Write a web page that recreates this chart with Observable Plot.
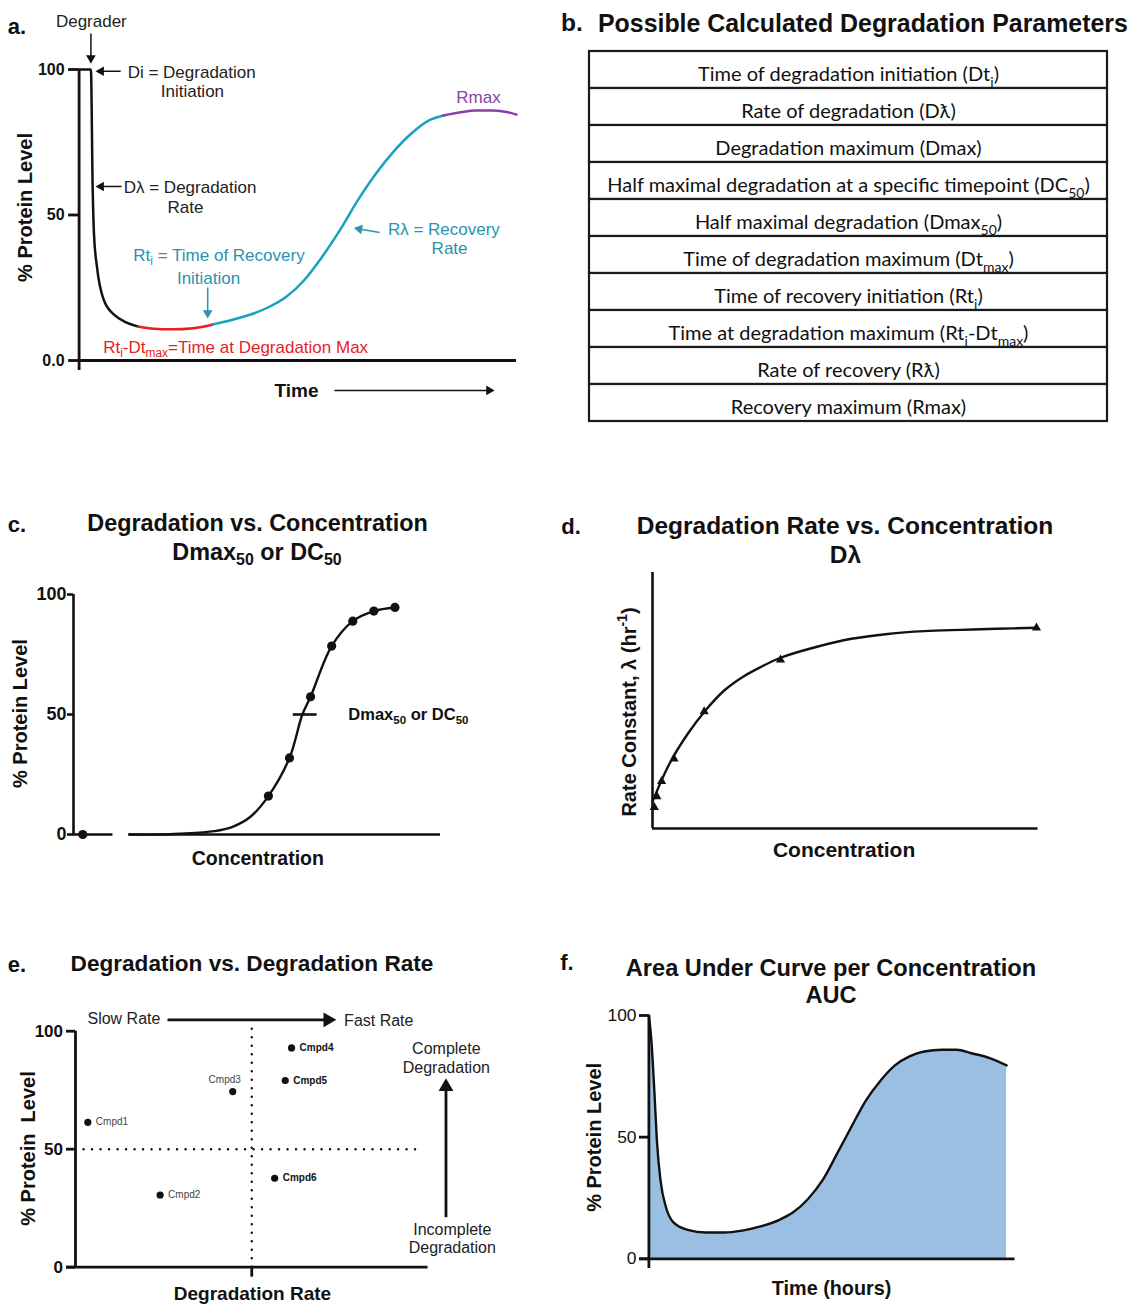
<!DOCTYPE html>
<html>
<head>
<meta charset="utf-8">
<script src="https://cdn.jsdelivr.net/npm/d3@7"></script>
<script src="https://cdn.jsdelivr.net/npm/@observablehq/plot@0.6"></script>
<style>
  html, body { margin: 0; padding: 0; background: #fff; }
  #page { position: relative; width: 1130px; height: 1304px; overflow: hidden;
          font-family: "Liberation Sans", Arial, sans-serif; color: #111; }
  .lbl { position: absolute; white-space: nowrap; line-height: 1; }
  .lbl sub { font-size: 68%; vertical-align: -0.28em; line-height: 0; }
  .panel { position: absolute; }
  .panel svg { overflow: visible; }
</style>
</head>
<body>
<div id="page"></div>
<script>
// ---------------- DATA ----------------
// Panel a: idealised time course (time in arbitrary units 0-100, % protein level)
const aTime  = [0, 2.7, 3.1, 3.4, 4.1, 5.7, 8.2, 10.6, 13.5, 17.1, 21.2, 26.1, 30.6, 35.1, 39.2, 43.3, 47.3, 51.4, 55.5, 59.6, 63.7, 67.8, 71.8, 75.9, 80, 83.3, 87.3, 90.6, 94.7, 98, 100];
const aLevel = [100, 100, 59.6, 43.5, 32, 20.6, 15.5, 13.2, 11.7, 10.9, 10.7, 11.1, 12.4, 14, 15.8, 18.3, 21.8, 27.5, 35.5, 44.7, 55, 64.1, 71.6, 77.9, 82.5, 84.2, 85.3, 85.9, 85.9, 85.3, 84.5];
const aPhaseNames = ["degradation", "dmax", "recovery", "rmax"];
const aPhaseStart = [0, 13.5, 30.6, 83.3];
const aPhaseEnd   = [13.5, 30.6, 83.3, 100];

// Panel b: parameter table rows
const bParams = [
  "Time of degradation initiation (Dt_{i})",
  "Rate of degradation (D\u019B)",
  "Degradation maximum (Dmax)",
  "Half maximal degradation at a specific timepoint (DC_{50})",
  "Half maximal degradation (Dmax_{50})",
  "Time of degradation maximum (Dt_{max})",
  "Time of recovery initiation (Rt_{i})",
  "Time at degradation maximum (Rt_{i}-Dt_{max})",
  "Rate of recovery (R\u019B)",
  "Recovery maximum (Rmax)"
];

// Panel c: dose response (log concentration units)
const cLogConc = [-9, -8, -7, -6, -5, -4, -3];
const cLevel   = [16, 31.9, 57.4, 78.5, 88.9, 93.1, 94.6];
const cVehicleLogConc = [-17.8];
const cVehicleLevel   = [0];
const cFitLogConc = [-15.6, -14.1, -13.24, -11.56, -10.7, -9.85, -9, -8, -7.39, -7, -6, -5, -4, -3];
const cFitLevel   = [0, 0, 0.3, 1.4, 3.2, 7.4, 16, 31.9, 50, 57.4, 78.5, 88.9, 93.1, 94.6];
const cDC50 = 50;

// Panel d: rate constant vs concentration (arbitrary units)
const dConc = [0.47, 1.14, 2.36, 5.58, 13.4, 33.2, 99.6];
const dRate = [8.3, 12.5, 18.4, 27.2, 45.7, 65.9, 78.4];
const dFitConc = [0, 4.4, 9.15, 13.9, 18.6, 23.3, 28, 33.2, 42.2, 51.6, 61, 70.5, 79.9, 89.3, 99.7];
const dFitRate = [10.5, 25.3, 37, 46.4, 53.9, 59.1, 63, 66.7, 70.8, 74.1, 76, 77.1, 77.6, 78, 78.4];

// Panel e: compounds, degradation rate (0-100) vs % protein level
const eCompounds = ["Cmpd1", "Cmpd2", "Cmpd3", "Cmpd4", "Cmpd5", "Cmpd6"];
const eRate  = [3.5, 24, 44.6, 61.3, 59.5, 56.5];
const eLevel = [61.4, 30.6, 74.4, 92.9, 79.1, 37.7];

// Panel f: time course for AUC (time 0-100)
const fTime  = [0, 0.68, 1.48, 2.18, 3.17, 4.66, 6.64, 10.6, 15.6, 20.5, 25.5, 30.5, 35.5, 39.4, 43.4, 47.4, 51.4, 55.3, 59.3, 63.3, 67.2, 71.2, 75.2, 80.1, 84.1, 88.1, 93.1, 97.7];
const fLevel = [100, 89.7, 69.2, 48.6, 32.2, 21.2, 15.1, 11.9, 10.8, 10.8, 11.6, 13.3, 15.9, 19.1, 24.5, 32.2, 43.2, 54.2, 65.1, 73.3, 79.5, 83.2, 85.2, 85.9, 85.9, 84.5, 82.5, 79.5];

// ---------------- HELPERS ----------------
const page = document.getElementById("page");
const NS = "http://www.w3.org/2000/svg";
const INK = "#111";
const RED = "#ec1c24", CYAN = "#17a2bd", CYAN_TXT = "#2a93ad", PURPLE = "#8b3fa8";
const baseStyle = {fontFamily: "'Liberation Sans', Arial, sans-serif", fontSize: "16px", color: INK, background: "transparent", overflow: "visible"};

function label(html, x, y, size, opts = {}) {
  const {weight = "bold", anchor = "middle"} = opts;
  const d = document.createElement("div");
  d.className = "lbl";
  d.innerHTML = html;
  d.style.left = x + "px";
  d.style.top = y + "px";
  d.style.fontSize = size + "px";
  d.style.fontWeight = weight;
  const tx = anchor === "middle" ? "-50%" : anchor === "end" ? "-100%" : "0";
  d.style.transform = `translate(${tx}, -50%)`;
  page.appendChild(d);
}

function panel(svg, left, top) {
  const d = document.createElement("div");
  d.className = "panel";
  d.style.left = left + "px";
  d.style.top = top + "px";
  d.appendChild(rich(svg));
  page.appendChild(d);
}

// Turn _{..} and ^{..} into subscript / superscript tspans
function rich(svg) {
  for (const t of svg.querySelectorAll("text")) {
    if (t.querySelector("tspan")) continue;
    const s = t.textContent;
    if (!/[_^]\{/.test(s)) continue;
    t.textContent = "";
    let cur = 0;
    const add = (str, kind) => {
      const ts = document.createElementNS(NS, "tspan");
      ts.textContent = str;
      if (kind) {
        const target = kind === "_" ? 0.26 : -0.42;
        ts.setAttribute("font-size", "70%");
        ts.setAttribute("dy", ((target - cur) / 0.7).toFixed(3) + "em");
        cur = target;
      } else if (cur !== 0) {
        ts.setAttribute("dy", (-cur).toFixed(3) + "em");
        cur = 0;
      }
      t.appendChild(ts);
    };
    const re = /([_^])\{([^}]*)\}/g;
    let last = 0, m;
    while ((m = re.exec(s))) {
      if (m.index > last) add(s.slice(last, m.index));
      add(m[2], m[1]);
      last = re.lastIndex;
    }
    if (last < s.length) add(s.slice(last));
  }
  return svg;
}

// arrow = line + filled triangular head whose tip lands on (x2, y2)
function arrowMarks(rows, k, opts = {}) {
  const {r = 3.5, strokeWidth = 1.5, color = INK} = opts;
  const tip = 2 * Math.sqrt((Math.PI * r * r) / (3 * Math.sqrt(3)));
  const data = rows.map(d => {
    const px = (d.x2 - d.x1) * k.kx, py = -(d.y2 - d.y1) * k.ky;
    const L = Math.hypot(px, py), ux = px / L, uy = py / L;
    return {...d, hx: d.x2 - ux * tip / k.kx, hy: d.y2 + uy * tip / k.ky,
            angle: Math.atan2(ux, -uy) * 180 / Math.PI, c: d.color || color};
  });
  return [
    Plot.link(data, {x1: "x1", y1: "y1", x2: "hx", y2: "hy", stroke: "c", strokeWidth}),
    Plot.dot(data, {x: "hx", y: "hy", symbol: "triangle", r, fill: "c", stroke: "none", rotate: "angle"})
  ];
}

// ---------------- TITLES ----------------
label("a.", 17, 27, 22);
label("b.", 572, 23, 24.5);
label("Possible Calculated Degradation Parameters", 598, 23, 24.9, {anchor: "start"});
label("c.", 17, 525, 22);
label("Degradation vs. Concentration", 257.5, 524, 23.4);
label("Dmax<sub>50</sub> or DC<sub>50</sub>", 257, 553, 23.4);
label("d.", 571, 527, 22);
label("Degradation Rate vs. Concentration", 845, 526, 24.5);
label("D\u03BB", 845.5, 555, 24.5);
label("e.", 17, 965, 22);
label("Degradation vs. Degradation Rate", 252, 964, 22.6);
label("f.", 567, 963, 22);
label("Area Under Curve per Concentration", 831, 969, 23.6);
label("AUC", 831, 996, 23.6);

// ---------------- PANEL A ----------------
{
  const rows = aTime.map((t, i) => ({t, v: aLevel[i]}));
  const phaseColor = {degradation: INK, dmax: RED, recovery: CYAN, rmax: PURPLE};
  const k = {kx: (516 - 78.6) / 100, ky: (360 - 69) / 100};
  const notes = [
    {x: 2.8, y: 116.5, text: "Degrader", c: "#222", a: "middle"},
    {x: 11.1, y: 99, text: "Di = Degradation", c: "#222", a: "start"},
    {x: 25.9, y: 92.4, text: "Initiation", c: "#222", a: "middle"},
    {x: 10.2, y: 59.5, text: "D\u03BB = Degradation", c: "#222", a: "start"},
    {x: 24.3, y: 52.6, text: "Rate", c: "#222", a: "middle"},
    {x: 12.4, y: 36.1, text: "Rt_{i} = Time of Recovery", c: CYAN_TXT, a: "start"},
    {x: 29.6, y: 28.2, text: "Initiation", c: CYAN_TXT, a: "middle"},
    {x: 70.6, y: 45.0, text: "R\u03BB = Recovery", c: CYAN_TXT, a: "start"},
    {x: 84.7, y: 38.5, text: "Rate", c: CYAN_TXT, a: "middle"},
    {x: 91.3, y: 90.4, text: "Rmax", c: PURPLE, a: "middle"},
    {x: 5.5, y: 4.5, text: "Rt_{i}-Dt_{max}=Time at Degradation Max", c: RED, a: "start"}
  ];
  const arrows = [
    {x1: 2.7, y1: 112.4, x2: 2.7, y2: 102},
    {x1: 9.5, y1: 99.4, x2: 3.75, y2: 99.4},
    {x1: 9.7, y1: 59.8, x2: 3.75, y2: 59.8},
    {x1: 29.4, y1: 25.1, x2: 29.4, y2: 14.4, color: CYAN_TXT},
    {x1: 68.7, y1: 44.0, x2: 62.8, y2: 45.5, color: CYAN_TXT},
    {x1: 58.4, y1: -10.3, x2: 95, y2: -10.3}
  ];
  const svg = Plot.plot({
    width: 560, height: 420, marginLeft: 78.6, marginRight: 44, marginTop: 69, marginBottom: 60,
    x: {domain: [0, 100], axis: null}, y: {domain: [0, 100], axis: null},
    color: {type: "identity"},
    style: baseStyle,
    marks: [
      Plot.ruleX([0], {y1: -3.4, y2: 100, strokeWidth: 2.8, stroke: INK}),
      Plot.ruleY([0], {x1: 0, x2: 100, strokeWidth: 2.8, stroke: INK}),
      Plot.axisY({ticks: [0, 50, 100], tickFormat: d => d === 0 ? "0.0" : d, tickSize: 10.5, tickPadding: 4,
                  fontSize: 16, fontWeight: "bold", strokeWidth: 2.8, label: null}),
      ...aPhaseNames.map((p, i) => Plot.line(rows.filter(d => d.t >= aPhaseStart[i] && d.t <= aPhaseEnd[i]),
        {x: "t", y: "v", stroke: phaseColor[p], strokeWidth: 2.5, curve: "monotone-x"})),
      ...arrowMarks(arrows, k, {r: 3.6, strokeWidth: 1.5}),
      Plot.text(notes.filter(d => d.a === "start"), {x: "x", y: "y", text: "text", fill: "c", textAnchor: "start", fontSize: 17}),
      Plot.text(notes.filter(d => d.a === "middle"), {x: "x", y: "y", text: "text", fill: "c", textAnchor: "middle", fontSize: 17}),
      Plot.text(["% Protein Level"], {x: -12.25, y: 52.6, rotate: -90, fontSize: 20, fontWeight: "bold"}),
      Plot.text(["Time"], {x: 49.7, y: -10.3, fontSize: 19, fontWeight: "bold"})
    ]
  });
  panel(svg, 0, 0);
}

// ---------------- PANEL B ----------------
{
  const svg = Plot.plot({
    width: 570, height: 400, marginLeft: 29, marginRight: 23, marginTop: 10, marginBottom: 19,
    x: {domain: [0, 1], axis: null},
    y: {domain: bParams, padding: 0, axis: null},
    style: baseStyle,
    marks: [
      Plot.barX(bParams, {y: d => d, x1: 0, x2: 1, fill: "#fff", stroke: "#1a1a1a", strokeWidth: 2.2}),
      Plot.text(bParams, {y: d => d, x: 0.5, dy: 5, text: d => d, fontSize: 20, fontFamily: "Lato, 'Noto Sans', sans-serif", fill: "#111"})
    ]
  });
  panel(svg, 560, 40);
}

// ---------------- PANEL C ----------------
{
  const pts = cLogConc.map((x, i) => ({x, y: cLevel[i]}));
  const veh = cVehicleLogConc.map((x, i) => ({x, y: cVehicleLevel[i]}));
  const fit = cFitLogConc.map((x, i) => ({x, y: cFitLevel[i]}));
  const x0 = -18.24, x1 = -0.84;
  const svg = Plot.plot({
    width: 560, height: 340, marginLeft: 73, marginRight: 120, marginTop: 54, marginBottom: 46,
    x: {domain: [x0, x1], axis: null}, y: {domain: [0, 100], axis: null},
    style: baseStyle,
    marks: [
      Plot.ruleX([x0], {y1: 0, y2: 100, strokeWidth: 2.6, stroke: INK}),
      Plot.ruleY([{a: x0, b: -16.37}, {a: -15.6, b: x1}], {y: 0, x1: "a", x2: "b", strokeWidth: 2.6, stroke: INK}),
      Plot.axisY({ticks: [0, 50, 100], tickSize: 6, tickPadding: 1, fontSize: 18, fontWeight: "bold", strokeWidth: 2.6, label: null}),
      Plot.line(fit, {x: "x", y: "y", stroke: INK, strokeWidth: 2.4, curve: "catmull-rom"}),
      Plot.dot(pts, {x: "x", y: "y", r: 4.6, fill: INK}),
      Plot.dot(veh, {x: "x", y: "y", r: 4.6, fill: INK}),
      Plot.ruleY([cDC50], {x1: -7.82, x2: -6.69, strokeWidth: 2.6, stroke: INK}),
      Plot.text(["Dmax_{50} or DC_{50}"], {x: -5.21, y: 50, textAnchor: "start", fontSize: 16.5, fontWeight: "bold"}),
      Plot.text(["% Protein Level"], {x: -20.75, y: 50.4, rotate: -90, fontSize: 20, fontWeight: "bold"}),
      Plot.text(["Concentration"], {x: -9.5, y: -10, fontSize: 19.5, fontWeight: "bold"})
    ]
  });
  panel(svg, 0, 540);
}

// ---------------- PANEL D ----------------
{
  const pts = dConc.map((x, i) => ({x, y: dRate[i]}));
  const fit = dFitConc.map((x, i) => ({x, y: dFitRate[i]}));
  const svg = Plot.plot({
    width: 570, height: 320, marginLeft: 92, marginRight: 92.5, marginTop: 12, marginBottom: 52,
    x: {domain: [0, 100], axis: null}, y: {domain: [0, 100], axis: null},
    style: baseStyle,
    marks: [
      Plot.ruleX([0], {y1: 0, y2: 100, strokeWidth: 2.6, stroke: INK}),
      Plot.ruleY([0], {x1: 0, x2: 100, strokeWidth: 2.6, stroke: INK}),
      Plot.line(fit, {x: "x", y: "y", stroke: INK, strokeWidth: 2.4, curve: "catmull-rom"}),
      Plot.dot(pts, {x: "x", y: "y", symbol: "triangle2", r: 4.4, fill: INK}),
      Plot.text(["Rate Constant, \u03BB (hr^{-1})"], {x: -6, y: 45.5, rotate: -90, fontSize: 20, fontWeight: "bold"}),
      Plot.text(["Concentration"], {x: 49.7, y: -8.6, fontSize: 21, fontWeight: "bold"})
    ]
  });
  panel(svg, 560, 560);
}

// ---------------- PANEL E ----------------
{
  const pts = eCompounds.map((name, i) => ({name, x: eRate[i], y: eLevel[i]}));
  const k = {kx: 3.525, ky: 2.36};
  const rightPlain = ["Cmpd1", "Cmpd2"], above = ["Cmpd3"], rightBold = ["Cmpd4", "Cmpd5", "Cmpd6"];
  const arrows = [
    {x1: 26.1, y1: 104.8, x2: 74, y2: 104.8},
    {x1: 105.1, y1: 21.2, x2: 105.1, y2: 80.1}
  ];
  const notes = [
    {x: 3.4, y: 105.4, text: "Slow Rate", a: "start"},
    {x: 76.2, y: 104.5, text: "Fast Rate", a: "start"},
    {x: 105.2, y: 92.7, text: "Complete", a: "middle"},
    {x: 105.2, y: 84.6, text: "Degradation", a: "middle"},
    {x: 106.9, y: 16, text: "Incomplete", a: "middle"},
    {x: 106.9, y: 8.4, text: "Degradation", a: "middle"}
  ];
  const dotted = {strokeDasharray: "0.1 8.4", strokeLinecap: "round", strokeWidth: 2.4, stroke: INK};
  const svg = Plot.plot({
    width: 560, height: 314, marginLeft: 75, marginRight: 132.5, marginTop: 40.7, marginBottom: 37.3,
    x: {domain: [0, 100], axis: null}, y: {domain: [0, 100], axis: null},
    style: baseStyle,
    marks: [
      Plot.ruleX([50], {y1: 0, y2: 103.3, ...dotted}),
      Plot.ruleY([50], {x1: 0, x2: 98.2, ...dotted}),
      Plot.ruleX([0], {y1: 0, y2: 100, strokeWidth: 2.8, stroke: INK}),
      Plot.ruleY([0], {x1: -2.55, x2: 100, strokeWidth: 2.8, stroke: INK}),
      Plot.ruleX([50], {y1: 0, y2: -4.2, strokeWidth: 2.8, stroke: INK}),
      Plot.axisY({ticks: [0, 50, 100], tickSize: 9, tickPadding: 3.5, fontSize: 17, fontWeight: "bold", strokeWidth: 2.8, label: null}),
      Plot.dot(pts, {x: "x", y: "y", r: 3.6, fill: INK}),
      Plot.text(pts.filter(d => rightPlain.includes(d.name)), {x: "x", y: "y", text: "name", dx: 8, textAnchor: "start", fontSize: 10, fill: "#444"}),
      Plot.text(pts.filter(d => above.includes(d.name)), {x: "x", y: "y", text: "name", dx: -8, dy: -12, fontSize: 10, fill: "#444"}),
      Plot.text(pts.filter(d => rightBold.includes(d.name)), {x: "x", y: "y", text: "name", dx: 8, textAnchor: "start", fontSize: 10, fontWeight: "bold", fill: INK}),
      ...arrowMarks(arrows, k, {r: 5.5, strokeWidth: 2.8}),
      Plot.text(notes.filter(d => d.a === "start"), {x: "x", y: "y", text: "text", textAnchor: "start", fontSize: 16, fill: "#222"}),
      Plot.text(notes.filter(d => d.a === "middle"), {x: "x", y: "y", text: "text", fontSize: 16, fill: "#222"}),
      Plot.text(["% Protein\u00A0 Level"], {x: -13.2, y: 50.3, rotate: -90, fontSize: 20, fontWeight: "bold"}),
      Plot.text(["Degradation Rate"], {x: 50.2, y: -11.3, fontSize: 19, fontWeight: "bold"})
    ]
  });
  panel(svg, 0, 990);
}

// ---------------- PANEL F ----------------
{
  const rows = fTime.map((t, i) => ({t, v: fLevel[i]}));
  const svg = Plot.plot({
    width: 570, height: 304, marginLeft: 88.4, marginRight: 115.5, marginTop: 15, marginBottom: 45.7,
    x: {domain: [0, 100], axis: null}, y: {domain: [0, 100], axis: null},
    style: baseStyle,
    marks: [
      Plot.areaY(rows, {x: "t", y: "v", fill: "#9bbfe3", curve: "monotone-x"}),
      Plot.lineY(rows, {x: "t", y: "v", stroke: INK, strokeWidth: 2.4, curve: "monotone-x"}),
      Plot.ruleX([0], {y1: -4, y2: 100, strokeWidth: 2.8, stroke: INK}),
      Plot.ruleY([0], {x1: -2.57, x2: 100, strokeWidth: 2.8, stroke: INK}),
      Plot.axisY({ticks: [0, 50, 100], tickSize: 9.4, tickPadding: 3, fontSize: 17.4, strokeWidth: 2.8, label: null}),
      Plot.text(["% Protein Level"], {x: -14.7, y: 49.9, rotate: -90, fontSize: 20, fontWeight: "bold"}),
      Plot.text(["Time (hours)"], {x: 49.9, y: -12.2, fontSize: 19.8, fontWeight: "bold"})
    ]
  });
  panel(svg, 560, 1000);
}
</script>
</body>
</html>
